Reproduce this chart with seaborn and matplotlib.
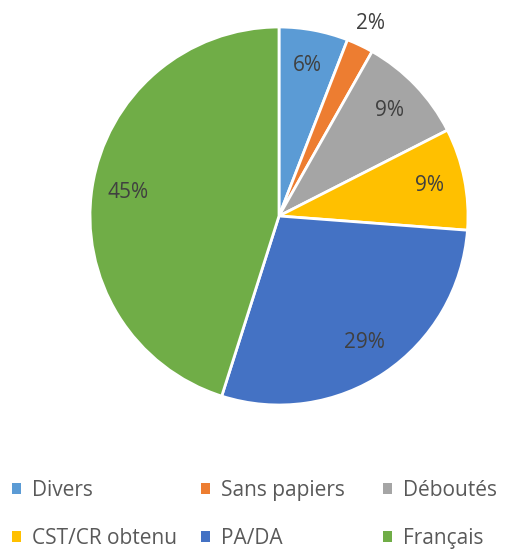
import matplotlib
matplotlib.use("Agg")
import matplotlib.pyplot as plt
import seaborn as sns

categories = ["Divers", "Sans papiers", "Déboutés", "CST/CR obtenu", "PA/DA", "Français"]
values = [5.9, 2.3, 9.3, 8.7, 28.7, 45.1]
colors = ["#5B9BD5", "#ED7D31", "#A5A5A5", "#FFC000", "#4472C4", "#70AD47"]

sns.set_theme(style="white")
plt.rcParams['font.family'] = ['Open Sans', 'DejaVu Sans']

W, H = 505, 551
fig = plt.figure(figsize=(W / 100, H / 100), dpi=100)
cx, cy, r = 279, 216, 189
ax = fig.add_axes([(cx - r) / W, (H - cy - r) / H, 2 * r / W, 2 * r / H])

sns.set_palette(colors)
wedges, texts, autotexts = ax.pie(
    values, startangle=90, counterclock=False, colors=colors,
    autopct=lambda p: f"{p:.0f}%", pctdistance=0.81,
    wedgeprops=dict(edgecolor="white", linewidth=2),
    textprops=dict(color="#404040", fontsize=15),
)
# move the small slice label outside
x0, y0 = autotexts[1].get_position()
autotexts[1].set_position((x0 * 1.13 / 0.81, y0 * 1.13 / 0.81))
ax.set_xlim(-1, 1)
ax.set_ylim(-1, 1)
ax.set_aspect("equal")
ax.axis("off")

col_x = [12, 201, 383]
for j in range(3):
    leg = fig.legend(
        [wedges[j], wedges[j + 3]], [categories[j], categories[j + 3]],
        loc="upper left", bbox_to_anchor=(col_x[j] / W, 1 - 480 / H),
        frameon=False, fontsize=15, labelcolor="#595959",
        handlelength=0.42, handleheight=0.42, handletextpad=0.55,
        labelspacing=1.3, borderpad=0, borderaxespad=0,
    )
    for h in leg.legend_handles:
        h.set_edgecolor("none")

fig.savefig("out.png", dpi=100, facecolor="white")
